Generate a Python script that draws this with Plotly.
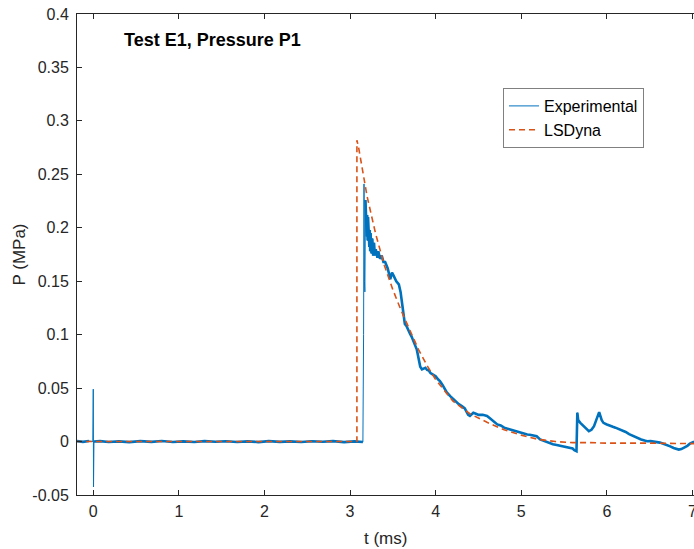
import plotly.graph_objects as go

# ---------------- data ----------------
exp_t = [-0.19, -0.12, -0.05, -0.005, 0.0, 0.003, 0.008, 0.08, 0.18, 0.3, 0.42, 0.55, 0.68,
         0.8, 0.93, 1.05, 1.18, 1.3, 1.43, 1.55, 1.68, 1.8, 1.93, 2.05, 2.18, 2.3, 2.43,
         2.55, 2.68, 2.8, 2.93, 3.05, 3.15,
         3.158, 3.163, 3.168, 3.173, 3.18, 3.185, 3.19, 3.195, 3.2, 3.205, 3.21, 3.215, 3.22,
         3.225, 3.23, 3.235, 3.24, 3.25, 3.26, 3.27, 3.28, 3.29, 3.3, 3.32, 3.33, 3.35, 3.37,
         3.39, 3.41, 3.44, 3.47, 3.49, 3.51, 3.54, 3.57, 3.59, 3.61, 3.64, 3.66, 3.68, 3.70,
         3.72, 3.74, 3.76, 3.78, 3.80, 3.82, 3.84, 3.86, 3.88, 3.90, 3.92, 3.94, 3.96, 3.98,
         4.00, 4.03, 4.05, 4.08, 4.10, 4.13, 4.17, 4.20, 4.24, 4.27, 4.31, 4.34, 4.36, 4.38,
         4.40, 4.42, 4.44, 4.47, 4.50, 4.55, 4.60, 4.63, 4.66, 4.69, 4.72, 4.76, 4.80, 4.84,
         4.88, 4.92, 4.95, 4.98, 5.01, 5.04, 5.07, 5.10, 5.12, 5.15, 5.18, 5.22, 5.25, 5.28,
         5.31, 5.34, 5.37, 5.40, 5.43, 5.46, 5.50, 5.53, 5.56, 5.58, 5.60, 5.62, 5.645,
         5.655, 5.665, 5.69, 5.72, 5.74, 5.77, 5.79, 5.82, 5.85, 5.88, 5.91, 5.94, 5.96,
         6.00, 6.04, 6.07, 6.10, 6.13, 6.16, 6.19, 6.22, 6.26, 6.31, 6.35, 6.40, 6.44, 6.47,
         6.51, 6.55, 6.59, 6.62, 6.66, 6.70, 6.74, 6.78, 6.81, 6.84, 6.87, 6.90, 6.94, 6.97,
         7.02]
exp_p = [0.0004, -0.0003, 0.0005, 0.0, 0.049, -0.0425, 0.0, 0.0004, -0.0004, 0.0002,
         -0.0005, 0.0004, -0.0003, 0.0005, -0.0004, 0.0002, -0.0004, 0.0004, -0.0002,
         0.0003, -0.0004, 0.0002, -0.0005, 0.0004, -0.0003, 0.0002, -0.0004, 0.0003,
         -0.0002, 0.0004, -0.0005, 0.0002, -0.0004,
         0.10, 0.241, 0.15, 0.14, 0.226, 0.205, 0.218, 0.192, 0.212, 0.188, 0.21, 0.19, 0.204,
         0.182, 0.198, 0.178, 0.195, 0.176, 0.19, 0.174, 0.186, 0.174, 0.18, 0.172, 0.178,
         0.171, 0.174, 0.168, 0.168, 0.162, 0.152, 0.158, 0.155, 0.150, 0.147, 0.140,
         0.128, 0.110, 0.108, 0.104, 0.101, 0.098, 0.093, 0.090, 0.086, 0.078, 0.070,
         0.0675, 0.068, 0.069, 0.067, 0.0665, 0.064, 0.063, 0.062, 0.061, 0.058, 0.0565,
         0.053, 0.050, 0.046, 0.0425, 0.040, 0.037, 0.035, 0.033, 0.031, 0.028, 0.025,
         0.024, 0.026, 0.027, 0.026, 0.025, 0.025, 0.024, 0.022, 0.020, 0.018, 0.016,
         0.015, 0.013, 0.012, 0.011, 0.010, 0.009, 0.0085, 0.008, 0.007, 0.0066, 0.0064,
         0.006, 0.0055, 0.005, 0.002, 0.001, 0.000, -0.001, -0.002, -0.0025, -0.003,
         -0.0035, -0.004, -0.0045, -0.005, -0.0055, -0.006, -0.0065, -0.008, -0.009,
         0.027, 0.020, 0.0175, 0.015, 0.013, 0.011, 0.0097, 0.011, 0.0144, 0.021, 0.0275,
         0.020, 0.0175, 0.016, 0.0144, 0.0138, 0.013, 0.012, 0.0112, 0.010, 0.009, 0.007,
         0.005, 0.0035, 0.002, 0.001, 0.0003, 0.0004, 0.000, -0.0005, -0.001, -0.002,
         -0.003, -0.0045, -0.006, -0.007, -0.0075, -0.007, -0.006, -0.004, -0.002, 0.0]

lsd_t = [-0.2, 3.08, 3.08, 3.10, 3.20, 3.30, 3.40, 3.50, 3.60, 3.70, 3.80, 3.90, 4.00,
         4.20, 4.40, 4.60, 4.80, 5.00, 5.20, 5.40, 5.60, 5.80, 6.00, 6.50, 7.05]
lsd_p = [0.0, 0.0, 0.282, 0.275, 0.229, 0.194, 0.165, 0.142, 0.122, 0.104, 0.086, 0.071,
         0.058, 0.038, 0.026, 0.018, 0.011, 0.006, 0.002, 0.000, -0.001, -0.001, -0.0015,
         -0.0015, -0.002]

x_ticks = [0, 1, 2, 3, 4, 5, 6, 7]
y_ticks = [-0.05, 0, 0.05, 0.1, 0.15, 0.2, 0.25, 0.3, 0.35, 0.4]
y_tick_text = ["-0.05", "0", "0.05", "0.1", "0.15", "0.2", "0.25", "0.3", "0.35", "0.4"]

title_text = "Test E1, Pressure P1"
x_label = "t (ms)"
y_label = "P (MPa)"

# ---------------- figure ----------------
BLUE = "#0072BD"
ORANGE = "#D95319"
AX = "#262626"
FONT = "Liberation Sans, Arial, sans-serif"

# thick "noise band" copy, leaving the thin spikes out
band_p = [None if (abs(t) < 0.006 or 3.15 < t < 3.178) else p for t, p in zip(exp_t, exp_p)]

fig = go.Figure()
fig.add_trace(go.Scatter(x=exp_t, y=band_p, mode="lines", showlegend=False,
                         line=dict(color=BLUE, width=2.6), connectgaps=False,
                         hoverinfo="skip"))
fig.add_trace(go.Scatter(x=exp_t, y=exp_p, mode="lines", name="Experimental",
                         line=dict(color=BLUE, width=1)))
fig.add_trace(go.Scatter(x=lsd_t, y=lsd_p, mode="lines", name="LSDyna",
                         line=dict(color=ORANGE, width=1.6, dash="6px,4px")))

axis_common = dict(showgrid=False, zeroline=False, showline=True, linecolor=AX,
                   linewidth=1, ticks="inside", ticklen=5, tickcolor=AX,
                   tickfont=dict(family=FONT, size=16, color=AX),
                   ticklabeloverflow="allow", automargin=False)

fig.update_xaxes(range=[-0.19, 7.018], tickvals=x_ticks, mirror="ticks",
                 ticklabelstandoff=2, **axis_common)
fig.update_yaxes(range=[-0.05, 0.4], tickvals=y_ticks, ticktext=y_tick_text, mirror=False,
                 ticklabelstandoff=4, **axis_common)

fig.add_annotation(x=0.34, y=0.376, xref="x", yref="y", text=f"<b>{title_text}</b>",
                   showarrow=False, xanchor="left", yanchor="middle",
                   font=dict(family=FONT, size=18, color="black"))
fig.add_annotation(x=(385 - 77) / 617, y=-(538 - 495) / 481, xref="paper", yref="paper",
                   text=x_label, showarrow=False, xanchor="center", yanchor="middle",
                   font=dict(family=FONT, size=17, color=AX))
fig.add_annotation(x=(19 - 77) / 617, y=0.5, xref="paper", yref="paper", text=y_label,
                   showarrow=False, textangle=-90, xanchor="center", yanchor="middle",
                   font=dict(family=FONT, size=17, color=AX))

fig.update_layout(
    width=694, height=549,
    margin=dict(l=77, r=0, t=14, b=54, autoexpand=False),
    plot_bgcolor="white", paper_bgcolor="white",
    legend=dict(x=(503 - 77) / 617, y=(495 - 88) / 481, xanchor="left", yanchor="top",
                bgcolor="white", bordercolor="#808080", borderwidth=1,
                font=dict(family=FONT, size=16, color="black"),
                tracegroupgap=0, itemwidth=30),
)

fig.write_html("out.html", config={"displayModeBar": False},
               post_script="document.body.style.margin='0';")
